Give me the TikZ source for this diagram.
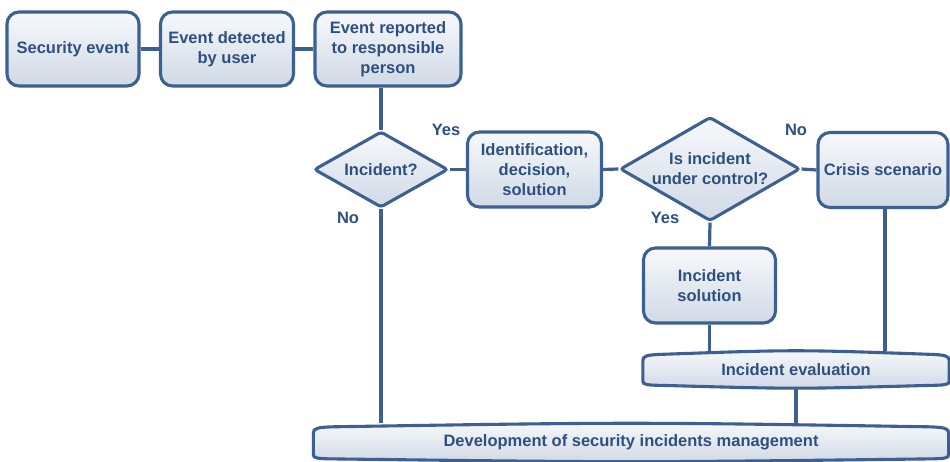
\documentclass[tikz,border=0pt]{standalone}
\usepackage{fontspec}
\setmainfont{Liberation Sans}
\usetikzlibrary{shapes.geometric,calc}
\definecolor{edgeblue}{RGB}{60,96,146}
\definecolor{textblue}{RGB}{45,80,128}
\definecolor{filltop}{RGB}{247,249,251}
\definecolor{fillbot}{RGB}{208,217,230}
\pgfdeclarelayer{wires}
\pgfdeclarelayer{bars}
\pgfsetlayers{wires,bars,main}

\tikzset{
  base/.style={font=\fontsize{16.5}{20}\selectfont\bfseries, text=textblue, align=center},
  stepbox/.style={base, rectangle, rounded corners=12pt, draw=edgeblue, line width=3.1pt,
    top color=filltop, bottom color=fillbot, inner sep=0pt},
  decision/.style={base, diamond, aspect=1.75, draw=edgeblue, line width=3.1pt, rounded corners=3pt,
    top color=filltop, bottom color=fillbot, inner sep=0pt},
  barnode/.style={base, rectangle, inner sep=0pt},
  wire/.style={draw=edgeblue, line width=3.2pt},
  answer/.style={font=\fontsize{16.5}{20}\selectfont\bfseries, text=textblue},
}

% Outline of a wide bar with slightly bowed top and bottom edges
\newcommand\drawbar[1]{%
  \shade[draw=edgeblue, line width=3.1pt, top color=filltop, bottom color=fillbot]
    ($(#1.north west)+(0,10)$)
      .. controls ($(#1.north west)+(0,5)$) and ($(#1.north west)+(4,4)$) .. ($(#1.north west)+(20,3.5)$)
      .. controls ($(#1.north)+(0,-1.2)$) .. ($(#1.north east)+(-20,3.5)$)
      .. controls ($(#1.north east)+(-4,4)$) and ($(#1.north east)+(0,5)$) .. ($(#1.north east)+(0,10)$)
      -- ($(#1.south east)+(0,-7)$)
      .. controls ($(#1.south east)+(0,-3.5)$) and ($(#1.south east)+(-4,-3)$) .. ($(#1.south east)+(-20,-2.8)$)
      .. controls ($(#1.south)+(0,0.9)$) .. ($(#1.south west)+(20,-2.8)$)
      .. controls ($(#1.south west)+(4,-3)$) and ($(#1.south west)+(0,-3.5)$) .. ($(#1.south west)+(0,-7)$)
      -- cycle;}

\begin{document}
\begin{tikzpicture}[x=1pt, y=-1pt]
\useasboundingbox (0,0) rectangle (950,462);

% top row
\node[stepbox, minimum width=132pt, minimum height=74pt] (sec) at (73,49) {Security event};
\node[stepbox, minimum width=133pt, minimum height=74pt] (det) at (227,49) {Event detected\\by user};
\node[stepbox, minimum width=146pt, minimum height=74pt] (rep) at (388,49) {Event reported\\to responsible\\person};

% decisions and actions
\node[decision, minimum width=134pt, minimum height=76pt] (inc) at (381,169.5) {Incident?};
\node[stepbox, minimum width=134pt, minimum height=75pt] (idn) at (534.5,169.5) {Identification,\\decision,\\solution};
\node[decision, minimum width=180pt, minimum height=104pt] (ctl) at (710,169) {Is incident\\under control?};
\node[stepbox, minimum width=130pt, minimum height=75pt] (cri) at (883,170) {Crisis scenario};
\node[stepbox, minimum width=132pt, minimum height=75pt] (sol) at (709.5,285.5) {Incident\\solution};

% bars
\node[barnode, minimum width=306pt, minimum height=37pt] (eva) at (796,369.5) {Incident evaluation};
\node[barnode, minimum width=635pt, minimum height=38pt] (dev) at (631,442.5) {Development of security incidents management};

\begin{pgfonlayer}{bars}
  \drawbar{eva}
  \drawbar{dev}
\end{pgfonlayer}

\begin{pgfonlayer}{wires}
  \draw[wire] (sec.east) -- (det.west);
  \draw[wire] (det.east) -- (rep.west);
  \draw[wire] (inc.north |- rep.south) -- (inc.north);
  \draw[wire] (inc.east) -- (idn.west);
  \draw[wire] (idn.east) -- (ctl.west);
  \draw[wire] (ctl.east) -- (cri.west);
  \draw[wire] (ctl.south) -- (sol.north);
  \draw[wire] (sol.south) -- (sol.south |- eva.north);
  \draw[wire] ([xshift=2pt]cri.south) -- ([xshift=2pt]cri.south |- eva.north);
  \draw[wire] (inc.south) -- (inc.south |- dev.north);
  \draw[wire] (eva.south) -- (eva.south |- dev.north);
\end{pgfonlayer}

% answers on the branches
\node[answer] (yes1) at (446,130) {Yes};
\node[answer] (no1) at (348,218) {No};
\node[answer] (no2) at (796,130) {No};
\node[answer] (yes2) at (665,218) {Yes};
\end{tikzpicture}
\end{document}
